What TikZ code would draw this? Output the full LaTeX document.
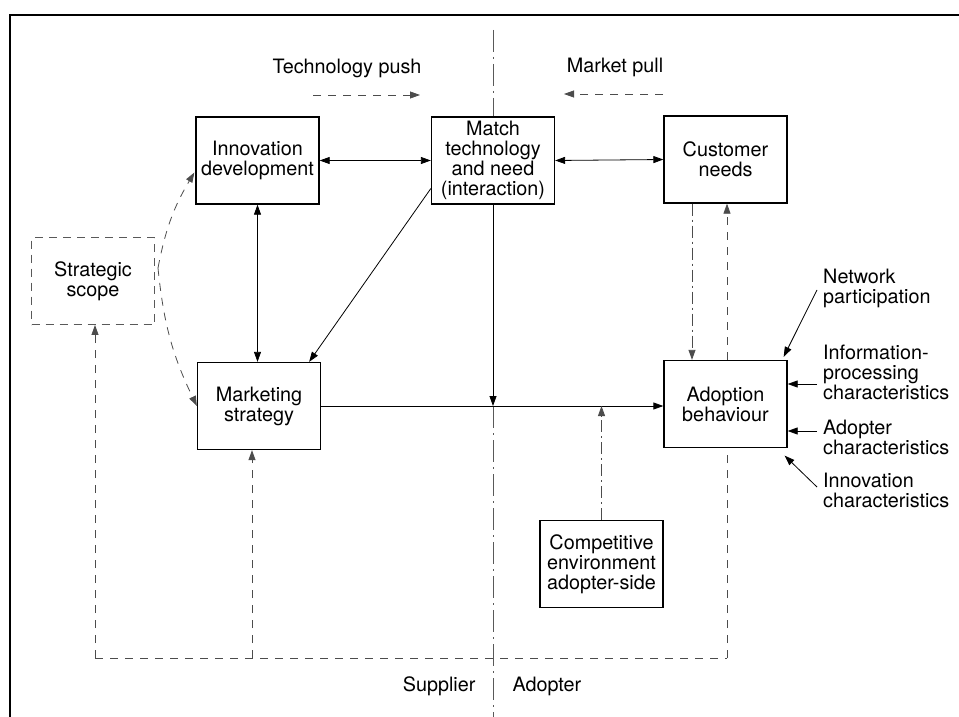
\documentclass[tikz,border=0pt]{standalone}
\usepackage{fontspec}
\setmainfont{TeX Gyre Heros}
\usetikzlibrary{arrows.meta,calc}
\begin{document}
\begin{tikzpicture}[x=1pt,y=-1pt,
  font=\fontsize{19.8}{20}\selectfont,
  box/.style={draw, line width=1.3pt, minimum width=123pt, minimum height=87pt,
              align=center, inner sep=0pt, fill=white},
  dbox/.style={box, dash pattern=on 8pt off 6pt, line width=0.9pt, draw=black!65},
  tip/.style={-{Triangle[length=10pt,width=7pt]}},
  both/.style={{Triangle[length=10pt,width=7pt]}-{Triangle[length=10pt,width=7pt]}},
  link/.style={line width=0.8pt},
  fb/.style={line width=0.8pt, draw=black!70, dash pattern=on 8pt off 7pt},
  dd/.style={line width=0.8pt, draw=black!70, dash pattern=on 12pt off 4pt on 2pt off 4pt},
  divider/.style={line width=0.8pt, draw=black!65, dash pattern=on 22pt off 5pt on 2pt off 5pt},
  lbl/.style={align=left, anchor=west, inner sep=0pt},
]
\useasboundingbox (0,0) rectangle (959,717);

% page frame
\coordinate (f1) at (10,717);
\coordinate (f2) at (10,15);
\coordinate (f3) at (959,15);
\draw[line width=1.6pt] (f1) -- (f2) -- (f3);

% supplier / adopter divide
\coordinate (dtop) at (493,30);
\coordinate (dbot) at (493,717);

% feedback loop along the bottom
\coordinate (cl) at (95,658);
\coordinate (cm) at (252,658);
\coordinate (cr) at (727,658);

% boxes
\node[box]  (innov) at (257.5,160.5) {Innovation\\development};
\node[box]  (match) at (493,160.5)   {Match\\technology\\and need\\(interaction)};
\node[box]  (cust)  at (725.5,159.5) {Customer\\needs};
\node[dbox] (strat) at (93,281)      {Strategic\\scope};
\node[box]  (mkt)   at (259,406)     {Marketing\\strategy};
\node[box]  (adopt) at (725.5,404)   {Adoption\\behaviour};
\node[box]  (comp)  at (601.5,564)   {Competitive\\environment\\adopter-side};

% headings
\node (tpush) at (347,68) {Technology push};
\node (mpull) at (615,67) {Market pull};
\coordinate (tp1) at (313,95);
\coordinate (tp2) at (420,95);
\coordinate (mp1) at (663,94);
\coordinate (mp2) at (564,94);
\draw[fb,tip] (tp1) -- (tp2);
\draw[fb,tip] (mp1) -- (mp2);

\node[anchor=east] (sup) at (479,686) {Supplier};
\node[anchor=west] (adp) at (509,686) {Adopter};

% divider line
\draw[divider] (dtop) -- (match.north);
\draw[link,tip] (match.south) -- (match.south |- mkt.east);
\draw[divider] (match.south |- mkt.east) -- (dbot);

% interactions among boxes
\draw[link,both] (innov.east) -- (match.west);
\draw[link,both] (match.east) -- (cust.west);
\draw[link,both] (innov.south) -- (innov.south |- mkt.north);
\coordinate (ms) at ($(match.west)+(0,28)$);
\coordinate (mt) at ($(mkt.north east)+(-12,0)$);
\draw[link,tip] (ms) -- (mt);
\draw[link,tip] (mkt.east) -- (mkt.east -| adopt.west);
\draw[dd,tip] (comp.north) -- (comp.north |- mkt.east);

% customer needs and adoption behaviour
\coordinate (cd) at ($(cust.south)+(-33.5,0)$);
\draw[dd,tip] (cd) -- (cd |- adopt.north);

% strategic scope
\coordinate (ss) at (158,268);
\coordinate (it) at ($(innov.west)+(-1,12)$);
\draw[fb,tip] (ss) to[bend left=10] (it);
\draw[fb,tip] (ss) to[bend right=10] (mkt.west);

% feedback loop
\draw[fb] (cl) -- (cr);
\draw[fb,tip] (cl) -- (cl |- strat.south);
\draw[fb,tip] (cm) -- (cm |- mkt.south);
\draw[fb] (cr) -- (cr |- adopt.south);
\draw[fb,tip] (cr |- adopt.north) -- (cr |- cust.south);

% adopter-side influences
\node[lbl] (net)  at (823,288) {Network\\participation};
\node[lbl] (info) at (823,372) {Information-\\processing\\characteristics};
\node[lbl] (adch) at (823,437) {Adopter\\characteristics};
\node[lbl] (inch) at (823,490) {Innovation\\characteristics};

\coordinate (nq) at ($(net.west)+(-6,2)$);
\coordinate (nt) at ($(adopt.north east)+(-4,-3)$);
\draw[link,tip] (nq) -- (nt);
\coordinate (iq) at ($(info.west)+(-6,12)$);
\draw[link,tip] (iq) -- (iq -| adopt.east);
\coordinate (aq) at ($(adch.west)+(-6,-6)$);
\draw[link,tip] (aq) -- (aq -| adopt.east);
\coordinate (vq) at ($(inch.west)+(-6,-3)$);
\coordinate (vt) at ($(adopt.south east)+(-3,7.5)$);
\draw[link,tip] (vq) -- (vt);
\end{tikzpicture}
\end{document}
